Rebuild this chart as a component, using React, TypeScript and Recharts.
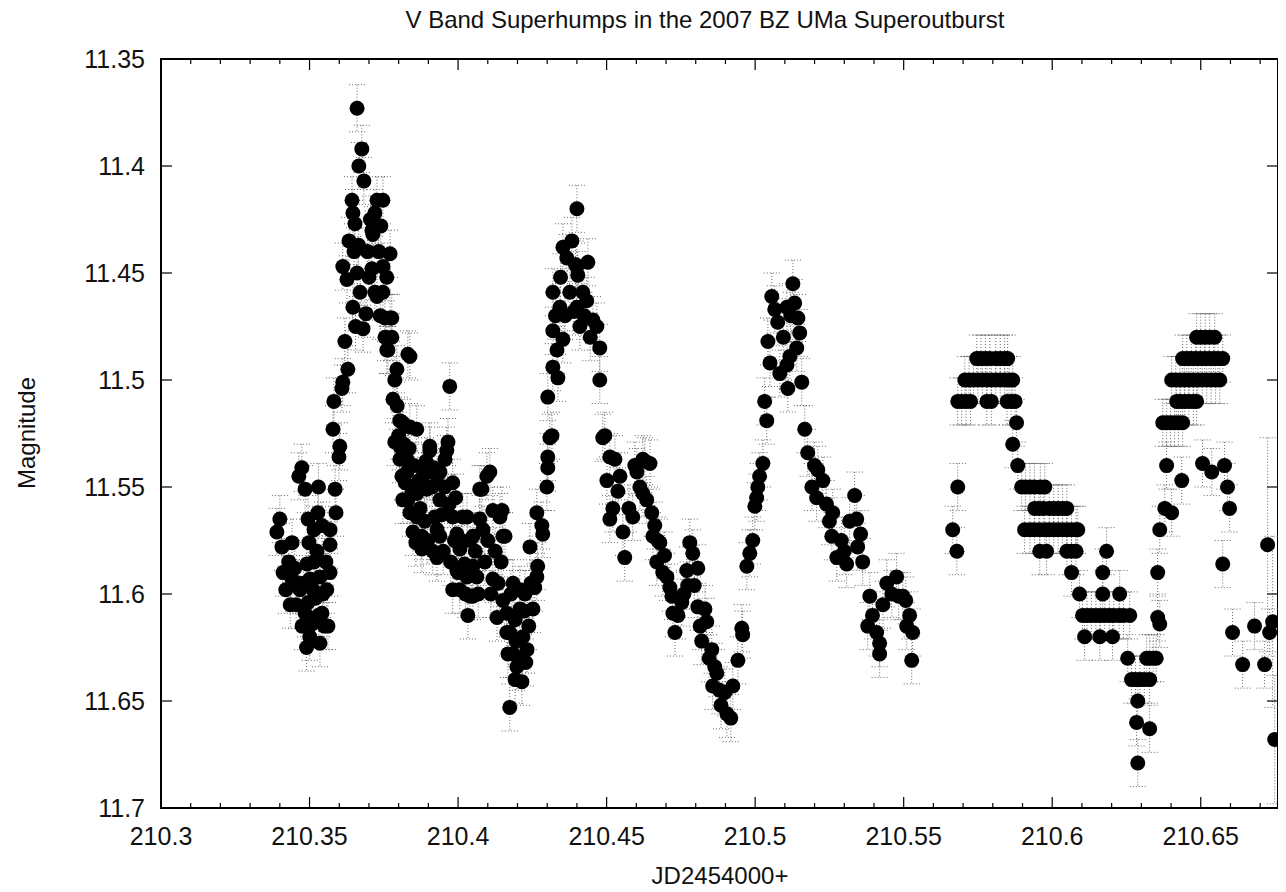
import { ScatterChart, Scatter, XAxis, YAxis, ErrorBar, ReferenceArea } from 'recharts'

// JD (minus 2454000) and V magnitude, hump by hump
const firstDip = [
  [210.339, 11.571], [210.34, 11.565], [210.3407, 11.578], [210.3411, 11.59], [210.342, 11.598],
  [210.343, 11.585], [210.3435, 11.605], [210.3441, 11.576], [210.3441, 11.593], [210.345, 11.588],
  [210.3455, 11.605], [210.3461, 11.595], [210.3464, 11.545], [210.3468, 11.598], [210.3474, 11.541],
  [210.3475, 11.615], [210.348, 11.595], [210.3485, 11.551], [210.3485, 11.609], [210.349, 11.625],
  [210.3491, 11.586], [210.3495, 11.604], [210.3495, 11.565], [210.3498, 11.576], [210.3501, 11.593],
  [210.3501, 11.62], [210.3508, 11.614], [210.3512, 11.598], [210.3515, 11.585], [210.3515, 11.57],
  [210.352, 11.602], [210.3525, 11.58], [210.3528, 11.562], [210.353, 11.61], [210.353, 11.55],
  [210.3535, 11.592], [210.3535, 11.623], [210.3542, 11.568], [210.3542, 11.609], [210.3545, 11.6],
  [210.355, 11.615], [210.3555, 11.585], [210.3558, 11.598], [210.3562, 11.615], [210.3569, 11.57],
  [210.3569, 11.577], [210.3569, 11.59], [210.3579, 11.523], [210.3582, 11.51], [210.3586, 11.551],
  [210.3589, 11.562], [210.3599, 11.536], [210.3602, 11.531], [210.3609, 11.504], [210.3612, 11.501],
  [210.3629, 11.495],
]

const firstPeak = [
  [210.3612, 11.447], [210.3619, 11.482], [210.3626, 11.453], [210.3633, 11.435], [210.3643, 11.416],
  [210.3646, 11.422], [210.3646, 11.466], [210.365, 11.44], [210.3653, 11.427], [210.3655, 11.475],
  [210.366, 11.373], [210.366, 11.45], [210.3665, 11.437], [210.3666, 11.4], [210.367, 11.459],
  [210.3676, 11.392], [210.368, 11.476], [210.3683, 11.407], [210.369, 11.469], [210.3695, 11.44],
  [210.37, 11.452], [210.3705, 11.425], [210.371, 11.43], [210.371, 11.448], [210.3713, 11.432],
  [210.372, 11.422], [210.372, 11.459], [210.3727, 11.416], [210.3727, 11.461], [210.3733, 11.44],
  [210.3738, 11.47], [210.374, 11.428], [210.3747, 11.416], [210.3747, 11.447], [210.3747, 11.459],
  [210.3754, 11.471], [210.3754, 11.48], [210.376, 11.452], [210.376, 11.486], [210.3764, 11.486],
  [210.3771, 11.441], [210.3771, 11.471], [210.3777, 11.471], [210.3777, 11.48],
]

const firstDecline = [
  [210.3781, 11.509], [210.3787, 11.5], [210.3787, 11.529], [210.3794, 11.495], [210.3795, 11.512],
  [210.38, 11.526], [210.3804, 11.519], [210.3804, 11.531], [210.3804, 11.537], [210.3811, 11.545],
  [210.3814, 11.52], [210.3814, 11.556], [210.3818, 11.53], [210.3822, 11.548], [210.3828, 11.537],
  [210.3828, 11.543], [210.3831, 11.488], [210.3831, 11.556], [210.3835, 11.532], [210.3838, 11.489],
  [210.3838, 11.522], [210.3838, 11.562], [210.3845, 11.552], [210.3848, 11.571], [210.3852, 11.54],
  [210.3858, 11.576], [210.3861, 11.523], [210.3861, 11.553], [210.3861, 11.564], [210.3868, 11.547],
  [210.3872, 11.56], [210.3878, 11.573], [210.3878, 11.579], [210.3882, 11.541], [210.3882, 11.545],
  [210.3888, 11.566], [210.3892, 11.538], [210.3895, 11.551], [210.3898, 11.575], [210.3905, 11.531],
  [210.3905, 11.533], [210.3912, 11.55], [210.3915, 11.58], [210.3918, 11.541], [210.3922, 11.564],
  [210.3929, 11.545], [210.3929, 11.57], [210.3929, 11.583], [210.3939, 11.543], [210.3939, 11.556],
  [210.3939, 11.573], [210.3945, 11.563], [210.395, 11.58], [210.3955, 11.55], [210.3956, 11.537],
  [210.3962, 11.533], [210.3966, 11.529], [210.397, 11.558], [210.3972, 11.503], [210.3975, 11.585],
  [210.3982, 11.548], [210.3982, 11.564], [210.3982, 11.598], [210.3988, 11.575], [210.3992, 11.555],
  [210.3996, 11.572], [210.3996, 11.589], [210.4, 11.59], [210.4006, 11.579], [210.4006, 11.598],
  [210.4012, 11.575], [210.4016, 11.564], [210.4022, 11.586], [210.4025, 11.6], [210.403, 11.564],
  [210.403, 11.592], [210.4033, 11.61], [210.404, 11.575], [210.404, 11.601], [210.4045, 11.59],
  [210.405, 11.573], [210.405, 11.587], [210.405, 11.601], [210.4058, 11.58], [210.4063, 11.592],
  [210.4068, 11.6], [210.4073, 11.551], [210.4073, 11.565], [210.408, 11.551], [210.4084, 11.57],
  [210.409, 11.585], [210.4097, 11.545], [210.41, 11.575], [210.4107, 11.543], [210.411, 11.6],
  [210.4117, 11.561], [210.4117, 11.593], [210.4125, 11.58], [210.4131, 11.611], [210.4135, 11.595],
  [210.4141, 11.564], [210.4145, 11.585], [210.4148, 11.561], [210.4151, 11.573], [210.4151, 11.603],
  [210.4158, 11.573],
]

const secondDip = [
  [210.4164, 11.609], [210.4164, 11.618], [210.4168, 11.628], [210.4174, 11.618], [210.4174, 11.653],
  [210.4178, 11.6], [210.4185, 11.595], [210.4185, 11.628], [210.4192, 11.612], [210.4192, 11.64],
  [210.4195, 11.622], [210.4198, 11.634], [210.4205, 11.63], [210.4208, 11.598], [210.4208, 11.607],
  [210.4215, 11.641], [210.4218, 11.62], [210.4222, 11.608], [210.4225, 11.6], [210.4228, 11.632],
  [210.4232, 11.626], [210.4238, 11.615], [210.4242, 11.578], [210.4245, 11.595], [210.4252, 11.607],
  [210.4258, 11.597], [210.4265, 11.562], [210.4265, 11.592], [210.4268, 11.587], [210.4282, 11.568],
  [210.4285, 11.572], [210.4299, 11.55], [210.4302, 11.536], [210.4302, 11.541], [210.4302, 11.508],
  [210.4309, 11.527], [210.4316, 11.526],
]

const secondPeak = [
  [210.4319, 11.459], [210.4319, 11.477], [210.4319, 11.494], [210.4328, 11.47], [210.4333, 11.486],
  [210.4336, 11.499], [210.4343, 11.466], [210.4345, 11.452], [210.4353, 11.438], [210.4353, 11.481],
  [210.436, 11.47], [210.4366, 11.443], [210.4376, 11.459], [210.4383, 11.435], [210.439, 11.468],
  [210.4395, 11.446], [210.44, 11.42], [210.44, 11.447], [210.44, 11.466], [210.4403, 11.451],
  [210.441, 11.475], [210.442, 11.459], [210.4425, 11.47], [210.4433, 11.463], [210.4437, 11.445],
  [210.4445, 11.48], [210.4454, 11.472], [210.4467, 11.475], [210.4477, 11.485], [210.4477, 11.5],
  [210.4487, 11.527], [210.4494, 11.526], [210.4501, 11.547], [210.4511, 11.536], [210.4511, 11.565],
  [210.4521, 11.56], [210.4528, 11.537],
]

const secondDecline = [
  [210.4538, 11.552], [210.4545, 11.545], [210.4555, 11.571], [210.4561, 11.583], [210.4575, 11.56],
  [210.4588, 11.564], [210.4595, 11.54], [210.4602, 11.543], [210.4612, 11.55], [210.4622, 11.537],
  [210.4622, 11.553], [210.4629, 11.538], [210.4635, 11.556], [210.4646, 11.539], [210.4652, 11.562],
  [210.4656, 11.573], [210.4662, 11.568], [210.4669, 11.585], [210.4672, 11.575], [210.4679, 11.576],
  [210.4689, 11.59], [210.4695, 11.582], [210.4703, 11.592], [210.4713, 11.597], [210.472, 11.601],
  [210.4723, 11.609], [210.473, 11.618], [210.474, 11.61], [210.4753, 11.604], [210.476, 11.6],
  [210.477, 11.589], [210.4773, 11.596], [210.478, 11.576], [210.479, 11.581], [210.4795, 11.596],
  [210.4807, 11.588], [210.4807, 11.606], [210.4815, 11.615], [210.482, 11.622], [210.4831, 11.607],
  [210.4837, 11.613], [210.4845, 11.63], [210.4854, 11.626], [210.4857, 11.643], [210.4864, 11.634],
  [210.4871, 11.637], [210.488, 11.645], [210.4885, 11.652], [210.4898, 11.646], [210.4905, 11.656],
  [210.4918, 11.658], [210.4925, 11.643], [210.4942, 11.631], [210.4955, 11.616], [210.4958, 11.619],
]

const thirdHump = [
  [210.4972, 11.587], [210.4982, 11.581], [210.4992, 11.575], [210.4999, 11.559], [210.5005, 11.555],
  [210.5009, 11.55], [210.5015, 11.545], [210.5026, 11.539], [210.5032, 11.51], [210.5039, 11.519],
  [210.5043, 11.482], [210.505, 11.492], [210.5056, 11.461], [210.5066, 11.467], [210.5076, 11.473],
  [210.5083, 11.497], [210.5095, 11.48], [210.5107, 11.466], [210.5107, 11.493], [210.511, 11.504],
  [210.5117, 11.489], [210.512, 11.47], [210.5127, 11.455], [210.5133, 11.464], [210.514, 11.485],
  [210.5144, 11.471], [210.515, 11.478], [210.5157, 11.501], [210.5167, 11.523], [210.5177, 11.534],
  [210.5191, 11.55], [210.52, 11.54], [210.5207, 11.555], [210.5211, 11.542], [210.5228, 11.547],
  [210.524, 11.558], [210.525, 11.566], [210.5258, 11.573], [210.5261, 11.562], [210.5275, 11.583],
  [210.529, 11.575], [210.53, 11.58], [210.5308, 11.586], [210.5318, 11.566], [210.5335, 11.554],
  [210.5342, 11.565], [210.5345, 11.578], [210.5355, 11.572], [210.5362, 11.585], [210.5379, 11.615],
  [210.5386, 11.601], [210.5395, 11.61], [210.5409, 11.618], [210.5419, 11.623], [210.5419, 11.628],
  [210.543, 11.605], [210.5443, 11.595], [210.546, 11.6], [210.5476, 11.592], [210.5483, 11.601],
  [210.5497, 11.601], [210.5507, 11.603], [210.551, 11.615], [210.552, 11.61], [210.5527, 11.631],
  [210.553, 11.618],
]

const lateHumps = [
  [210.5665, 11.57], [210.5679, 11.58], [210.5682, 11.55],
  [210.5682, 11.51], [210.5695, 11.51], [210.571, 11.51], [210.5725, 11.51], [210.578, 11.51],
  [210.5795, 11.51], [210.5848, 11.51], [210.5862, 11.51], [210.5875, 11.51],
  [210.5706, 11.5], [210.572, 11.5], [210.5735, 11.5], [210.575, 11.5], [210.5765, 11.5],
  [210.578, 11.5], [210.5795, 11.5], [210.581, 11.5], [210.5825, 11.5], [210.584, 11.5],
  [210.5855, 11.5], [210.5867, 11.5],
  [210.5746, 11.49], [210.576, 11.49], [210.5775, 11.49], [210.579, 11.49], [210.581, 11.49],
  [210.5825, 11.49], [210.584, 11.49], [210.585, 11.49],
  [210.588, 11.52], [210.5867, 11.53], [210.5884, 11.54],
  [210.5897, 11.55], [210.591, 11.55], [210.5925, 11.55], [210.594, 11.55], [210.596, 11.55],
  [210.5975, 11.55],
  [210.5941, 11.56], [210.5955, 11.56], [210.597, 11.56], [210.599, 11.56], [210.6005, 11.56],
  [210.602, 11.56], [210.6035, 11.56], [210.6049, 11.56],
  [210.5907, 11.57], [210.5925, 11.57], [210.594, 11.57], [210.5958, 11.57], [210.5975, 11.57],
  [210.599, 11.57], [210.6005, 11.57], [210.602, 11.57], [210.6035, 11.57], [210.605, 11.57],
  [210.6065, 11.57], [210.608, 11.57], [210.6086, 11.57],
  [210.5958, 11.58], [210.5981, 11.58], [210.6049, 11.58], [210.6065, 11.58], [210.608, 11.58],
  [210.6183, 11.58],
  [210.6065, 11.59], [210.617, 11.59],
  [210.6092, 11.6], [210.617, 11.6], [210.6227, 11.6],
  [210.6102, 11.61], [210.6117, 11.61], [210.6132, 11.61], [210.6147, 11.61], [210.6162, 11.61],
  [210.6177, 11.61], [210.6192, 11.61], [210.6207, 11.61], [210.6225, 11.61], [210.624, 11.61],
  [210.6261, 11.61],
  [210.6109, 11.62], [210.616, 11.62], [210.6203, 11.62],
  [210.6254, 11.63], [210.6318, 11.63], [210.6328, 11.63], [210.634, 11.63], [210.635, 11.63],
  [210.6267, 11.64], [210.628, 11.64], [210.6295, 11.64], [210.631, 11.64], [210.6328, 11.64],
  [210.6288, 11.65], [210.6284, 11.66], [210.6328, 11.663], [210.6288, 11.679],
  [210.6355, 11.611], [210.6362, 11.614], [210.6355, 11.59], [210.6362, 11.57], [210.6379, 11.56],
  [210.6402, 11.562], [210.6385, 11.54], [210.6436, 11.547],
  [210.6372, 11.52], [210.6385, 11.52], [210.6398, 11.52], [210.6412, 11.52], [210.6425, 11.52],
  [210.6439, 11.52],
  [210.6419, 11.51], [210.6432, 11.51], [210.6446, 11.51], [210.646, 11.51], [210.6475, 11.51],
  [210.6486, 11.51],
  [210.6402, 11.5], [210.6416, 11.5], [210.643, 11.5], [210.6445, 11.5], [210.646, 11.5],
  [210.6475, 11.5], [210.649, 11.5], [210.6505, 11.5], [210.652, 11.5], [210.6535, 11.5],
  [210.655, 11.5], [210.6564, 11.5],
  [210.6439, 11.49], [210.6453, 11.49], [210.6468, 11.49], [210.6483, 11.49], [210.6498, 11.49],
  [210.6513, 11.49], [210.6528, 11.49], [210.6543, 11.49], [210.6558, 11.49], [210.6574, 11.49],
  [210.6486, 11.48], [210.65, 11.48], [210.6515, 11.48], [210.653, 11.48], [210.6547, 11.48],
  [210.6506, 11.539], [210.6537, 11.543], [210.658, 11.54], [210.659, 11.55], [210.6597, 11.56],
  [210.6574, 11.586], [210.6607, 11.618], [210.6641, 11.633], [210.6681, 11.615], [210.6715, 11.633],
  [210.6732, 11.618],
]

// last few points with large uncertainties: [jd, mag, err]
const noisyTail = [
  [210.6725, 11.577, 0.05],
  [210.6742, 11.613, 0.04],
  [210.6749, 11.668, 0.03],
]

const TYPICAL_ERR = 0.011

const X_TICKS = [
  210.3, 210.31, 210.32, 210.33, 210.34, 210.35, 210.36, 210.37, 210.38, 210.39,
  210.4, 210.41, 210.42, 210.43, 210.44, 210.45, 210.46, 210.47, 210.48, 210.49,
  210.5, 210.51, 210.52, 210.53, 210.54, 210.55, 210.56, 210.57, 210.58, 210.59,
  210.6, 210.61, 210.62, 210.63, 210.64, 210.65, 210.66, 210.67,
]
const X_LABELS = ['210.3', '210.35', '210.4', '210.45', '210.5', '210.55', '210.6', '210.65']
const Y_TICKS = [11.35, 11.4, 11.45, 11.5, 11.55, 11.6, 11.65, 11.7]

const points = [
  ...firstDip, ...firstPeak, ...firstDecline, ...secondDip,
  ...secondPeak, ...secondDecline, ...thirdHump, ...lateHumps,
].map(([jd, mag]) => ({ jd, mag, err: TYPICAL_ERR }))
  .concat(noisyTail.map(([jd, mag, err]) => ({ jd, mag, err })))

const W = 1278
const H = 884
const LEFT = 153
const RIGHT = 1270
const TOP = 51
const BOTTOM = 800
const FONT = '"Liberation Sans", Arial, Helvetica, sans-serif'

const XTick = ({ x, payload }: any) => {
  const label = String(+payload.value.toFixed(2))
  const major = X_LABELS.includes(label)
  const len = major ? 11 : 5
  return (
    <g>
      <line x1={x} x2={x} y1={BOTTOM} y2={BOTTOM - len} stroke="#000" strokeWidth={1.2} />
      <line x1={x} x2={x} y1={TOP} y2={TOP + len} stroke="#000" strokeWidth={1.2} />
      {major && (
        <text x={x} y={BOTTOM + 37} textAnchor="middle" fontSize={25} fontFamily={FONT} fill="#111">
          {label}
        </text>
      )}
    </g>
  )
}

const YTick = ({ y, payload }: any) => (
  <g>
    <line x1={LEFT} x2={LEFT + 11} y1={y} y2={y} stroke="#000" strokeWidth={1.2} />
    <line x1={RIGHT} x2={RIGHT - 11} y1={y} y2={y} stroke="#000" strokeWidth={1.2} />
    <text x={LEFT - 16} y={y + 9} textAnchor="end" fontSize={25} fontFamily={FONT} fill="#111">
      {String(payload.value)}
    </text>
  </g>
)

const Dot = (props: any) => <circle cx={props.cx} cy={props.cy} r={7.5} fill="#000" />

export default function App() {
  return (
    <div style={{ position: 'relative', width: W, height: H, fontFamily: FONT, color: '#111' }}>
      <div
        style={{
          position: 'absolute', left: 697, top: 0, transform: 'translateX(-50%)',
          fontSize: 24, lineHeight: 1, whiteSpace: 'nowrap',
        }}
      >
        V Band Superhumps in the 2007 BZ UMa Superoutburst
      </div>
      <div
        style={{
          position: 'absolute', left: 19, top: 425, transform: 'translate(-50%, -50%) rotate(-90deg)',
          fontSize: 24, lineHeight: 1, whiteSpace: 'nowrap',
        }}
      >
        Magnitude
      </div>
      <div
        style={{
          position: 'absolute', left: 712, top: 856, transform: 'translateX(-50%)',
          fontSize: 24, lineHeight: 1, whiteSpace: 'nowrap',
        }}
      >
        JD2454000+
      </div>
      <ScatterChart width={W} height={H} margin={{ top: TOP, right: W - RIGHT, bottom: 0, left: 0 }}>
        <XAxis
          type="number"
          dataKey="jd"
          domain={[210.3, 210.676]}
          allowDataOverflow
          ticks={X_TICKS}
          interval={0}
          height={H - BOTTOM}
          tickLine={false}
          axisLine={false}
          tick={<XTick />}
        />
        <YAxis
          type="number"
          dataKey="mag"
          domain={[11.35, 11.7]}
          allowDataOverflow
          reversed
          ticks={Y_TICKS}
          interval={0}
          width={LEFT}
          tickLine={false}
          axisLine={false}
          tick={<YTick />}
        />
        <ReferenceArea
          x1={210.3}
          x2={210.676}
          y1={11.35}
          y2={11.7}
          fill="#fff"
          fillOpacity={0}
          stroke="#000"
          strokeWidth={2}
        />
        <Scatter data={points} shape={Dot} isAnimationActive={false}>
          <ErrorBar
            dataKey="err"
            direction="y"
            width={8}
            stroke="#666"
            strokeWidth={1}
            strokeDasharray="1 2"
          />
        </Scatter>
      </ScatterChart>
    </div>
  )
}
